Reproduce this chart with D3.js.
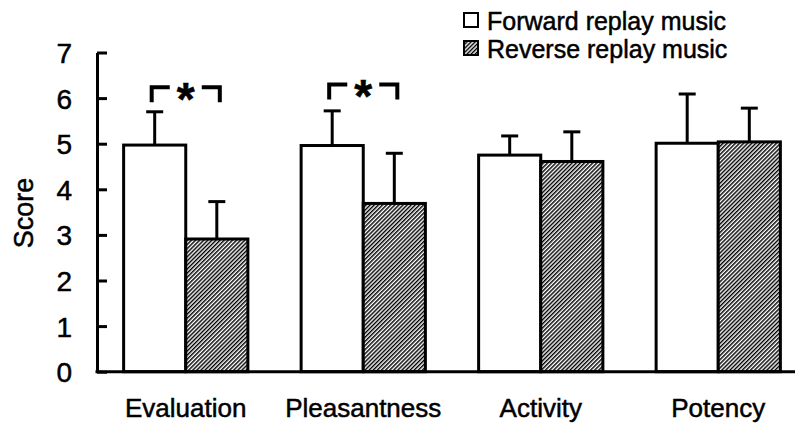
<!DOCTYPE html>
<html>
<head>
<meta charset="utf-8">
<script src="https://cdn.jsdelivr.net/npm/d3@7"></script>
<style>
  html, body { margin: 0; padding: 0; background: #fff; }
  svg { display: block; font-family: "Liberation Sans", Arial, sans-serif; }
  svg text { fill: #000; stroke: #000; stroke-width: 0.5; }
  .axis path, .axis line { stroke: #000; stroke-width: 3; }
  .axis text { font-size: 28px; }
</style>
</head>
<body>
<svg id="chart" width="795" height="423"></svg>
<script>
// Semantic differential scores, forward vs reverse replay music.
const categories = ["Evaluation", "Pleasantness", "Activity", "Potency"];
const series = ["Forward replay music", "Reverse replay music"];
const forwardMean = [4.97, 4.96, 4.75, 5.01];
const forwardSD = [0.73, 0.76, 0.42, 1.08];
const reverseMean = [2.91, 3.69, 4.61, 5.04];
const reverseSD = [0.82, 1.10, 0.65, 0.74];
const yTicks = [0, 1, 2, 3, 4, 5, 6, 7];
// Categories with a significant forward/reverse difference, and bracket level.
const significant = ["Evaluation", "Pleasantness"];
const bracketLevel = [6.24, 6.3];

const svg = d3.select("#chart");

const x = d3.scaleBand()
    .domain(categories)
    .range([97, 807])
    .paddingInner(0.3)
    .paddingOuter(0.15);

const xSeries = d3.scaleBand()
    .domain(series)
    .range([0, x.bandwidth()]);

const y = d3.scaleLinear().domain([0, 7]).range([371.7, 52.5]);

// hatch for the reverse series: thin "/" stripes
const defs = svg.append("defs");
defs.append("pattern")
    .attr("id", "hatch")
    .attr("patternUnits", "userSpaceOnUse")
    .attr("width", 2.9)
    .attr("height", 2.9)
    .attr("patternTransform", "rotate(45)")
    .call((p) => {
        p.append("rect").attr("width", 2.9).attr("height", 2.9).attr("fill", "#fff");
        p.append("line")
            .attr("x1", 0.7).attr("y1", 0).attr("x2", 0.7).attr("y2", 2.9)
            .attr("stroke", "#000").attr("stroke-width", 1.5);
    });

const fills = ["#fff", "url(#hatch)"];

const rows = categories.flatMap((c, i) => [
    { cat: c, s: series[0], mean: forwardMean[i], sd: forwardSD[i], fill: fills[0] },
    { cat: c, s: series[1], mean: reverseMean[i], sd: reverseSD[i], fill: fills[1] },
]);

// bars
svg.append("g")
    .selectAll("rect")
    .data(rows)
    .join("rect")
    .attr("x", (d) => x(d.cat) + xSeries(d.s))
    .attr("y", (d) => y(d.mean))
    .attr("width", xSeries.bandwidth())
    .attr("height", (d) => y(0) - y(d.mean))
    .attr("fill", (d) => d.fill)
    .attr("stroke", "#000")
    .attr("stroke-width", 3);

// error bars (upper only)
const err = svg.append("g").attr("stroke", "#000").attr("stroke-width", 3);
const cx = (d) => x(d.cat) + xSeries(d.s) + xSeries.bandwidth() / 2;
err.selectAll("line.stem")
    .data(rows)
    .join("line")
    .attr("class", "stem")
    .attr("x1", cx).attr("x2", cx)
    .attr("y1", (d) => y(d.mean))
    .attr("y2", (d) => y(d.mean + d.sd));
err.selectAll("line.cap")
    .data(rows)
    .join("line")
    .attr("class", "cap")
    .attr("x1", (d) => cx(d) - 8.5).attr("x2", (d) => cx(d) + 8.5)
    .attr("y1", (d) => y(d.mean + d.sd))
    .attr("y2", (d) => y(d.mean + d.sd));

// axes
const yAxis = d3.axisLeft(y)
    .tickValues(yTicks)
    .tickSizeInner(-10)
    .tickSizeOuter(0)
    .tickPadding(25)
    .tickFormat(d3.format("d"));
svg.append("g")
    .attr("class", "axis")
    .attr("transform", "translate(97,0)")
    .call(yAxis)
    .call((g) => g.selectAll(".tick text").attr("dy", "0.36em"));

svg.append("line")
    .attr("x1", 95.5).attr("x2", 795)
    .attr("y1", y(0)).attr("y2", y(0))
    .attr("stroke", "#000").attr("stroke-width", 3);

// category labels
svg.append("g")
    .selectAll("text")
    .data(categories)
    .join("text")
    .attr("x", (d) => x(d) + x.bandwidth() / 2)
    .attr("y", 416.5)
    .attr("text-anchor", "middle")
    .attr("font-size", 26)
    .text((d) => d);

svg.append("text")
    .attr("transform", "translate(33,213) rotate(-90)")
    .attr("text-anchor", "middle")
    .attr("font-size", 27)
    .text("Score");

// significance brackets
const br = svg.append("g");
significant.forEach((c, i) => {
    const x0 = x(c) + xSeries(series[0]) + xSeries.bandwidth() / 2 - 3;
    const x1 = x(c) + xSeries(series[1]) + xSeries.bandwidth() / 2 + 3;
    const mid = (x0 + x1) / 2;
    const yt = y(bracketLevel[i]);
    const leg = 15;
    br.append("path")
        .attr("d", `M${x0},${yt + leg}V${yt}H${mid - 16}M${mid + 16},${yt}H${x1}V${yt + leg}`)
        .attr("fill", "none")
        .attr("stroke", "#000")
        .attr("stroke-width", 4);
    br.append("text")
        .attr("x", mid)
        .attr("y", yt + 28)
        .attr("text-anchor", "middle")
        .attr("font-size", 46)
        .attr("font-weight", "bold")
        .text("*");
});

// legend
const legend = svg.append("g");
series.forEach((s, i) => {
    const row = legend.append("g").attr("transform", `translate(0,${i * 28})`);
    row.append("rect")
        .attr("x", 464).attr("y", 13)
        .attr("width", 14).attr("height", 14)
        .attr("fill", fills[i])
        .attr("stroke", "#000")
        .attr("stroke-width", 2);
    row.append("text")
        .attr("x", 487).attr("y", 29.5)
        .attr("font-size", 25)
        .text(s);
});
</script>
</body>
</html>
